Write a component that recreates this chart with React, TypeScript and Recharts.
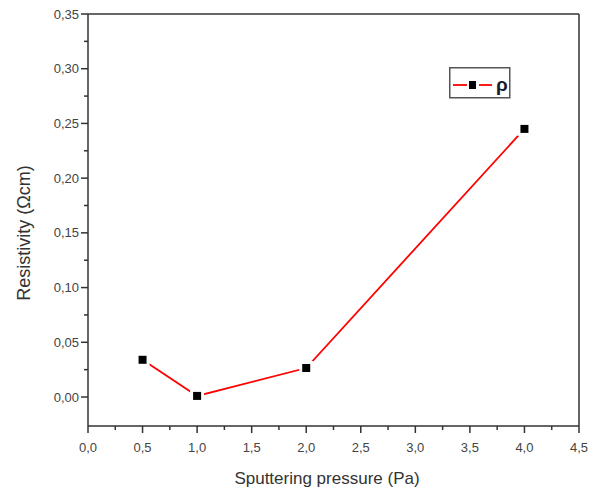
import React from "react";
import {
  LineChart,
  Line,
  XAxis,
  YAxis,
  ReferenceLine,
  Legend,
} from "recharts";

// measured points
const pressure = [0.5, 1.0, 2.0, 4.0];
const resistivity = [0.034, 0.001, 0.0265, 0.245];

const xMajor = [0, 0.5, 1, 1.5, 2, 2.5, 3, 3.5, 4, 4.5];
const xMinor = [0.25, 0.75, 1.25, 1.75, 2.25, 2.75, 3.25, 3.75, 4.25];
const yMajor = [0, 0.05, 0.1, 0.15, 0.2, 0.25, 0.3, 0.35];
const yMinor = [0.025, 0.075, 0.125, 0.175, 0.225, 0.275, 0.325];

const data = pressure.map((p, i) => ({ p, rho: resistivity[i] }));

const FONT = "Arial, 'Liberation Sans', sans-serif";
const AXIS = "#333";
const TICK_TEXT = "#444";

const comma = (v: number, digits: number) => v.toFixed(digits).replace(".", ",");

const XTick = (props: any) => {
  const { x, y, payload } = props;
  const major = xMajor.some((m) => Math.abs(m - payload.value) < 1e-9);
  return (
    <g>
      <line x1={x} x2={x} y1={y} y2={y + (major ? 7 : 4)} stroke={AXIS} strokeWidth={1.5} />
      {major && (
        <text x={x} y={y + 26} textAnchor="middle" fontSize={13} fill={TICK_TEXT} fontFamily={FONT}>
          {comma(payload.value, 1)}
        </text>
      )}
    </g>
  );
};

const YTick = (props: any) => {
  const { x, y, payload } = props;
  const major = yMajor.some((m) => Math.abs(m - payload.value) < 1e-9);
  return (
    <g>
      <line x1={x} x2={x - (major ? 7 : 4)} y1={y} y2={y} stroke={AXIS} strokeWidth={1.5} />
      {major && (
        <text x={x - 9} y={y} dy="0.35em" textAnchor="end" fontSize={13} fill={TICK_TEXT} fontFamily={FONT}>
          {comma(payload.value, 2)}
        </text>
      )}
    </g>
  );
};

// square marker with a white halo so the line stops short of it
const SquareDot = (props: any) => {
  const { cx, cy } = props;
  if (cx == null || cy == null) return null;
  return (
    <g>
      <rect x={cx - 7} y={cy - 7} width={14} height={14} fill="#fff" />
      <rect x={cx - 4} y={cy - 4} width={8} height={8} fill="#000" />
    </g>
  );
};

const LegendBox = () => (
  <svg width={62} height={32} style={{ display: "block" }}>
    <rect x={0.75} y={0.75} width={60} height={30} fill="#fff" stroke="#555" strokeWidth={1.5} />
    <line x1={4} x2={18} y1={18} y2={18} stroke="#ff0000" strokeWidth={1.8} />
    <rect x={20} y={14} width={7} height={8} fill="#000" />
    <line x1={30} x2={43} y1={18} y2={18} stroke="#ff0000" strokeWidth={1.8} />
    <text x={47} y={24} fontSize={19} fontWeight="bold" fill="#1a1a2e" fontFamily={FONT}>
      ρ
    </text>
  </svg>
);

export default function App() {
  return (
    <div style={{ position: "absolute", left: 0, top: 0, background: "#fff" }}>
      <LineChart
        width={596}
        height={490}
        data={data}
        margin={{ top: 14, right: 17, left: 0, bottom: 0 }}
      >
        <XAxis
          dataKey="p"
          type="number"
          domain={[0, 4.5]}
          allowDataOverflow
          ticks={[...xMajor, ...xMinor].sort((a, b) => a - b)}
          interval={0}
          height={64}
          tickSize={0}
          tickMargin={0}
          tickLine={false}
          tick={<XTick />}
          axisLine={{ stroke: AXIS, strokeWidth: 1.5 }}
          label={{
            content: () => (
              <text x={327} y={484} textAnchor="middle" fontSize={17} fill="#333" fontFamily={FONT}>
                Sputtering pressure (Pa)
              </text>
            ),
          }}
        />
        <YAxis
          type="number"
          domain={[-0.0265, 0.35]}
          allowDataOverflow
          ticks={[...yMajor, ...yMinor].sort((a, b) => a - b)}
          interval={0}
          width={88}
          tickSize={0}
          tickMargin={0}
          tickLine={false}
          tick={<YTick />}
          axisLine={{ stroke: AXIS, strokeWidth: 1.5 }}
          label={{
            content: () => (
              <text
                x={0}
                y={0}
                transform="translate(30 233) rotate(-90)"
                textAnchor="middle"
                fontSize={18}
                fill="#333"
                fontFamily={FONT}
              >
                Resistivity (Ωcm)
              </text>
            ),
          }}
        />
        <ReferenceLine y={0.35} stroke={AXIS} strokeWidth={1.5} />
        <ReferenceLine x={4.5} stroke={AXIS} strokeWidth={1.5} />
        <Legend
          layout="vertical"
          align="center"
          verticalAlign="middle"
          content={<LegendBox />}
          wrapperStyle={{ position: "absolute", left: 449, top: 67, width: 62, height: 32 }}
        />
        <Line
          type="linear"
          dataKey="rho"
          stroke="#ff0000"
          strokeWidth={1.8}
          dot={<SquareDot />}
          activeDot={false}
          isAnimationActive={false}
        />
      </LineChart>
    </div>
  );
}
